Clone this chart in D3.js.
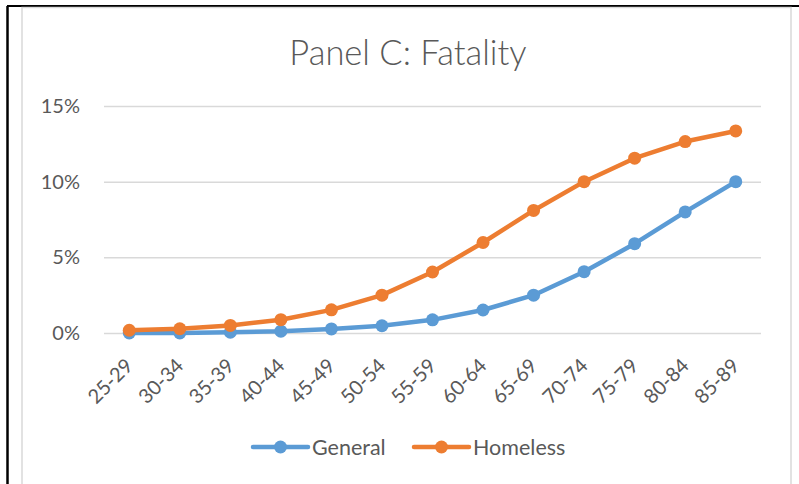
<!DOCTYPE html>
<html>
<head>
<meta charset="utf-8">
<script src="https://cdn.jsdelivr.net/npm/d3@7"></script>
<style>
  body { margin: 0; background: #fff; }
  text { font-family: Lato, "Open Sans", sans-serif; fill: #595959; }
</style>
</head>
<body>
<script>
const WIDTH = 799;
const HEIGHT = 484;

// Chart data.
const AGE_GROUPS = ['25-29', '30-34', '35-39', '40-44', '45-49', '50-54', '55-59',
    '60-64', '65-69', '70-74', '75-79', '80-84', '85-89'];
const GENERAL = [0.0, 0.0, 0.0005, 0.0012, 0.0027, 0.0048, 0.0087,
    0.0152, 0.025, 0.0405, 0.059, 0.080, 0.100];
const HOMELESS = [0.0018, 0.0028, 0.005, 0.0088, 0.0153, 0.025, 0.0403,
    0.0598, 0.081, 0.100, 0.1155, 0.1265, 0.1335];
const Y_TICKS = [0, 0.05, 0.10, 0.15];
const SERIES = [
    { name: 'General', values: GENERAL, color: '#5B9BD5' },
    { name: 'Homeless', values: HOMELESS, color: '#ED7D31' }
];

const PLOT_LEFT = 104;
const PLOT_RIGHT = 761;
const PLOT_TOP = 106;
const PLOT_BOTTOM = 333;
const LINE_WIDTH = 4.5;
const MARKER_RADIUS = 6.5;

var svg = d3.select('body')
    .append('svg')
    .attr('width', WIDTH)
    .attr('height', HEIGHT);

// Outer black frame (only the top and left edges show).
svg.append('line')
    .attr('x1', 7).attr('y1', 6).attr('x2', WIDTH).attr('y2', 6)
    .style('stroke', '#000').style('stroke-width', 2);
svg.append('line')
    .attr('x1', 7.5).attr('y1', 6).attr('x2', 7.5).attr('y2', HEIGHT)
    .style('stroke', '#000').style('stroke-width', 2.5);

// Chart area.
svg.append('rect')
    .attr('x', 22).attr('y', 7.5)
    .attr('width', 769).attr('height', HEIGHT + 10)
    .style('fill', '#fff')
    .style('stroke', '#D9D9D9')
    .style('stroke-width', 1.5);

svg.append('text')
    .attr('x', 408)
    .attr('y', 65)
    .attr('text-anchor', 'middle')
    .style('font-size', '34.5px')
    .style('font-weight', 300)
    .text('Panel C: Fatality');

var x = d3.scaleBand()
    .domain(AGE_GROUPS)
    .range([PLOT_LEFT, PLOT_RIGHT]);
var y = d3.scaleLinear()
    .domain([0, 0.15])
    .range([PLOT_BOTTOM, PLOT_TOP]);

// Gridlines and y labels.
var yAxis = svg.append('g')
    .attr('transform', `translate(${PLOT_LEFT},0)`)
    .call(d3.axisLeft(y)
        .tickValues(Y_TICKS)
        .tickFormat(d3.format('.0%'))
        .tickSize(-(PLOT_RIGHT - PLOT_LEFT))
        .tickPadding(24));
yAxis.select('.domain').remove();
yAxis.selectAll('line').style('stroke', '#D9D9D9').style('stroke-width', 1.5);
yAxis.selectAll('text')
    .style('font-size', '20px')
    .style('fill', '#595959')
    .style('font-family', 'Lato, sans-serif');

// Category labels, rotated.
var xAxis = svg.append('g')
    .attr('transform', `translate(0,${PLOT_BOTTOM})`)
    .call(d3.axisBottom(x).tickSize(0).tickPadding(0));
xAxis.select('.domain').remove();
xAxis.selectAll('text')
    .attr('text-anchor', 'end')
    .attr('dy', null)
    .attr('y', 0)
    .attr('transform', d => 'translate(5,34) rotate(-45)')
    .style('font-size', '20px')
    .style('fill', '#595959')
    .style('font-family', 'Lato, sans-serif');

var line = d3.line()
    .x((d, i) => x(AGE_GROUPS[i]) + x.bandwidth() / 2)
    .y(d => y(d));

var series_elements = svg.selectAll('.series')
    .data(SERIES)
    .enter()
    .append('g')
    .attr('class', 'series');

series_elements.append('path')
    .attr('d', d => line(d.values))
    .style('fill', 'none')
    .style('stroke', d => d.color)
    .style('stroke-width', LINE_WIDTH)
    .style('stroke-linejoin', 'round')
    .style('stroke-linecap', 'round');

series_elements.selectAll('circle')
    .data(d => d.values.map(v => ({ v: v, color: d.color })))
    .enter()
    .append('circle')
    .attr('cx', (d, i) => x(AGE_GROUPS[i]) + x.bandwidth() / 2)
    .attr('cy', d => y(d.v))
    .attr('r', MARKER_RADIUS)
    .style('fill', d => d.color);

// Legend.
const LEGEND_X = [253, 414];
var legend = svg.selectAll('.legend')
    .data(SERIES)
    .enter()
    .append('g')
    .attr('class', 'legend')
    .attr('transform', (d, i) => `translate(${LEGEND_X[i]},447)`);
legend.append('line')
    .attr('x1', 0).attr('x2', 55)
    .style('stroke', d => d.color)
    .style('stroke-width', LINE_WIDTH)
    .style('stroke-linecap', 'round');
legend.append('circle')
    .attr('cx', 27.5)
    .attr('r', MARKER_RADIUS)
    .style('fill', d => d.color);
legend.append('text')
    .attr('x', 59)
    .attr('y', 7.5)
    .style('font-size', '21.5px')
    .text(d => d.name);
</script>
</body>
</html>
